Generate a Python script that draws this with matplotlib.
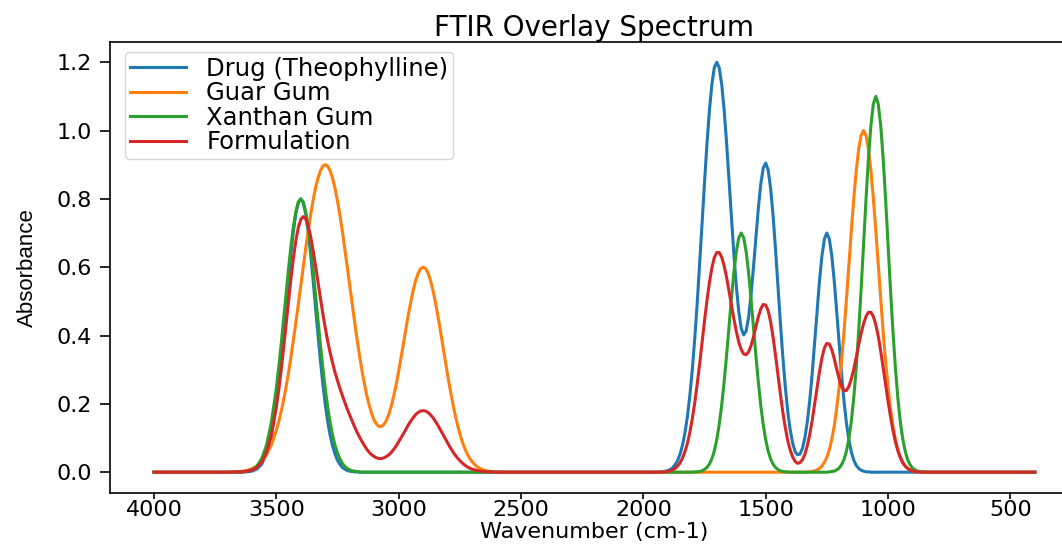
import matplotlib
matplotlib.use("Agg")
import matplotlib.pyplot as plt

# Wavenumber samples (cm-1)
wavenumber = [
    4000,
    3700, 3680, 3660, 3640, 3620, 3600, 3580, 3560, 3540, 3520,
    3500, 3490, 3480, 3470, 3460, 3450, 3440, 3430, 3420, 3410,
    3400, 3390, 3380, 3370, 3360, 3350, 3340, 3330, 3320, 3310,
    3300, 3290, 3280, 3270, 3260, 3250, 3240, 3230, 3220, 3210,
    3200, 3190, 3180, 3170, 3160, 3150, 3140, 3130, 3120, 3110,
    3100, 3090, 3080, 3070, 3060, 3050, 3040, 3030, 3020, 3010,
    3000, 2990, 2980, 2970, 2960, 2950, 2940, 2930, 2920, 2910,
    2900, 2890, 2880, 2870, 2860, 2850, 2840, 2830, 2820, 2810,
    2800, 2790, 2780, 2770, 2760, 2750, 2740, 2730, 2720, 2710,
    2700, 2690, 2680, 2670, 2660, 2650, 2640, 2630, 2620, 2610,
    2600, 2590, 2580, 2570,
    1960, 1950, 1940, 1930, 1920, 1910, 1900, 1890, 1880, 1870,
    1860, 1850, 1840, 1830, 1820, 1810, 1800, 1790, 1780, 1770,
    1760, 1750, 1740, 1730, 1720, 1710, 1700, 1690, 1680, 1670,
    1660, 1650, 1640, 1630, 1620, 1610, 1600, 1590, 1580, 1570,
    1560, 1550, 1540, 1530, 1520, 1510, 1500, 1490, 1480, 1470,
    1460, 1450, 1440, 1430, 1420, 1410, 1400, 1390, 1380, 1370,
    1360, 1350, 1340, 1330, 1320, 1310, 1300, 1290, 1280, 1270,
    1260, 1250, 1240, 1230, 1220, 1210, 1200, 1190, 1180, 1170,
    1160, 1150, 1140, 1130, 1120, 1110, 1100, 1090, 1080, 1070,
    1060, 1050, 1040, 1030, 1020, 1010, 1000, 990, 980, 970,
    960, 950, 940, 930, 920, 910, 900, 890, 880, 870,
    860, 850, 840,
    400,
]

drug = [
    0,
    0, 0, 0, 0, .001, .003, .009, .023, .053, .108,
    .199, .260, .329, .405, .485, .565, .641, .706, .757, .789,
    .800, .789, .757, .706, .641, .565, .485, .405, .329, .260,
    .199, .149, .108, .077, .053, .035, .023, .014, .009, .005,
    .003, .002, .001, .001, 0, 0, 0, 0, 0, 0,
    0, 0, 0, 0, 0, 0, 0, 0, 0, 0,
    0, 0, 0, 0, 0, 0, 0, 0, 0, 0,
    0, 0, 0, 0, 0, 0, 0, 0, 0, 0,
    0, 0, 0, 0, 0, 0, 0, 0, 0, 0,
    0, 0, 0, 0, 0, 0, 0, 0, 0, 0,
    0, 0, 0, 0,
    0, 0, 0, .001, .001, .003, .005, .008, .013, .022,
    .034, .053, .079, .115, .162, .224, .299, .390, .493, .608,
    .728, .848, .961, 1.059, 1.135, 1.184, 1.200, 1.184, 1.137, 1.062,
    .966, .858, .746, .638, .544, .470, .421, .402, .413, .453,
    .517, .599, .688, .773, .844, .890, .905, .885, .832, .753,
    .654, .546, .438, .338, .251, .179, .125, .086, .061, .051,
    .053, .069, .100, .147, .210, .288, .378, .472, .561, .634,
    .683, .700, .683, .634, .561, .472, .378, .288, .209, .144,
    .095, .059, .035, .020, .011, .006, .003, .001, .001, 0,
    0, 0, 0, 0, 0, 0, 0, 0, 0, 0,
    0, 0, 0, 0, 0, 0, 0, 0, 0, 0,
    0, 0, 0,
    0,
]

guar_gum = [
    0,
    0, .001, .001, .003, .005, .010, .018, .031, .051, .080,
    .122, .148, .178, .212, .250, .292, .338, .387, .438, .491,
    .546, .600, .654, .704, .752, .794, .831, .860, .882, .896,
    .900, .896, .882, .860, .831, .794, .752, .705, .654, .601,
    .547, .493, .440, .389, .342, .298, .259, .224, .195, .171,
    .152, .140, .134, .134, .140, .152, .170, .194, .223, .257,
    .295, .336, .378, .421, .462, .500, .534, .562, .583, .596,
    .600, .596, .583, .561, .533, .498, .459, .417, .373, .329,
    .285, .244, .206, .171, .140, .113, .089, .070, .054, .041,
    .031, .023, .016, .012, .008, .006, .004, .003, .002, .001,
    .001, 0, 0, 0,
    0, 0, 0, 0, 0, 0, 0, 0, 0, 0,
    0, 0, 0, 0, 0, 0, 0, 0, 0, 0,
    0, 0, 0, 0, 0, 0, 0, 0, 0, 0,
    0, 0, 0, 0, 0, 0, 0, 0, 0, 0,
    0, 0, 0, 0, 0, 0, 0, 0, 0, 0,
    0, 0, 0, 0, 0, 0, 0, 0, 0, 0,
    0, 0, 0, .001, .001, .002, .004, .007, .011, .018,
    .029, .044, .066, .096, .135, .186, .249, .325, .411, .506,
    .607, .707, .801, .882, .946, .986, 1.000, .986, .946, .882,
    .801, .707, .607, .506, .411, .325, .249, .186, .135, .096,
    .066, .044, .029, .018, .011, .007, .004, .002, .001, .001,
    0, 0, 0,
    0,
]

xanthan_gum = [
    0,
    0, 0, 0, .001, .003, .007, .017, .039, .079, .146,
    .245, .307, .375, .448, .522, .595, .662, .719, .763, .791,
    .800, .791, .763, .719, .662, .595, .522, .448, .375, .307,
    .245, .191, .146, .108, .079, .056, .039, .026, .017, .011,
    .007, .004, .003, .002, .001, 0, 0, 0, 0, 0,
    0, 0, 0, 0, 0, 0, 0, 0, 0, 0,
    0, 0, 0, 0, 0, 0, 0, 0, 0, 0,
    0, 0, 0, 0, 0, 0, 0, 0, 0, 0,
    0, 0, 0, 0, 0, 0, 0, 0, 0, 0,
    0, 0, 0, 0, 0, 0, 0, 0, 0, 0,
    0, 0, 0, 0,
    0, 0, 0, 0, 0, 0, 0, 0, 0, 0,
    0, 0, 0, 0, 0, 0, 0, .001, .001, .002,
    .004, .008, .014, .024, .039, .062, .095, .139, .195, .263,
    .341, .425, .508, .585, .646, .686, .700, .686, .646, .585,
    .508, .425, .341, .263, .195, .139, .095, .062, .039, .024,
    .014, .008, .004, .002, .001, .001, 0, 0, 0, 0,
    0, 0, 0, 0, 0, 0, 0, 0, 0, 0,
    0, 0, .001, .002, .003, .007, .012, .022, .037, .062,
    .098, .149, .218, .306, .413, .535, .667, .799, .919, 1.015,
    1.078, 1.100, 1.078, 1.015, .919, .799, .667, .535, .413, .306,
    .218, .149, .098, .062, .037, .022, .012, .007, .003, .002,
    .001, 0, 0,
    0,
]

formulation = [
    0,
    0, 0, .001, .001, .003, .006, .013, .029, .058, .109,
    .189, .241, .299, .364, .432, .501, .567, .627, .678, .716,
    .740, .748, .742, .722, .691, .651, .606, .558, .511, .465,
    .423, .384, .350, .320, .292, .268, .245, .224, .204, .185,
    .167, .150, .133, .117, .103, .090, .078, .067, .058, .051,
    .046, .042, .040, .040, .042, .046, .051, .058, .067, .077,
    .089, .101, .113, .126, .139, .150, .160, .169, .175, .179,
    .180, .179, .175, .168, .160, .149, .138, .125, .112, .099,
    .086, .073, .062, .051, .042, .034, .027, .021, .016, .012,
    .009, .007, .005, .004, .002, .002, .001, .001, .001, 0,
    0, 0, 0, 0,
    0, 0, 0, 0, .001, .001, .002, .004, .007, .011,
    .018, .027, .041, .060, .084, .116, .156, .203, .257, .316,
    .379, .443, .502, .555, .598, .628, .643, .643, .630, .605,
    .571, .531, .489, .449, .412, .381, .359, .346, .344, .352,
    .370, .396, .426, .455, .478, .491, .489, .473, .441, .396,
    .343, .286, .229, .176, .131, .093, .065, .045, .032, .026,
    .028, .036, .052, .077, .110, .151, .198, .247, .295, .335,
    .364, .377, .375, .359, .333, .302, .274, .251, .239, .239,
    .251, .273, .302, .336, .372, .406, .435, .456, .468, .468,
    .456, .432, .398, .355, .307, .257, .208, .163, .123, .090,
    .063, .043, .028, .018, .011, .006, .004, .002, .001, .001,
    0, 0, 0,
    0,
]

series_labels = ["Drug (Theophylline)", "Guar Gum", "Xanthan Gum", "Formulation"]
series_colors = ["#1f77b4", "#ff7f0e", "#2ca02c", "#d62728"]
x_ticks = [4000, 3500, 3000, 2500, 2000, 1500, 1000, 500]
y_ticks = [0.0, 0.2, 0.4, 0.6, 0.8, 1.0, 1.2]

fig = plt.figure(figsize=(10.62, 5.44), dpi=100)
ax = fig.add_axes([109.9 / 1062, (544 - 492.7) / 544, 969 / 1062, 451 / 544])
for values, lab, col in zip([drug, guar_gum, xanthan_gum, formulation],
                            series_labels, series_colors):
    ax.plot(wavenumber, values, color=col, lw=2.2, label=lab)

ax.set_xlim(4180, 220)
ax.set_ylim(-0.06, 1.26)
ax.set_xticks(x_ticks)
ax.set_yticks(y_ticks)
ax.tick_params(axis="x", length=4.3, width=1.2, pad=0.8, labelsize=16)
ax.tick_params(axis="y", length=7, width=1.2, pad=6.0, labelsize=16)
for sp in ax.spines.values():
    sp.set_linewidth(1.2)

ax.set_title("FTIR Overlay Spectrum", fontsize=20, pad=2.4)
ax.set_xlabel("Wavenumber (cm-1)", fontsize=16)
ax.xaxis.set_label_coords(0.5, -0.065)
ax.set_ylabel("Absorbance", fontsize=16,
              family=["Liberation Sans Narrow", "Liberation Sans", "DejaVu Sans"])
ax.yaxis.set_label_coords((38 - 109.9) / 969, 0.5)

ax.legend(loc="upper left", bbox_to_anchor=((125 - 109.9) / 969, 1 - 10 / 451),
          borderaxespad=0, fontsize=17.5, labelspacing=0.02, borderpad=0.2,
          handlelength=2.3, handletextpad=0.85)

fig.savefig("out.png", dpi=100)
